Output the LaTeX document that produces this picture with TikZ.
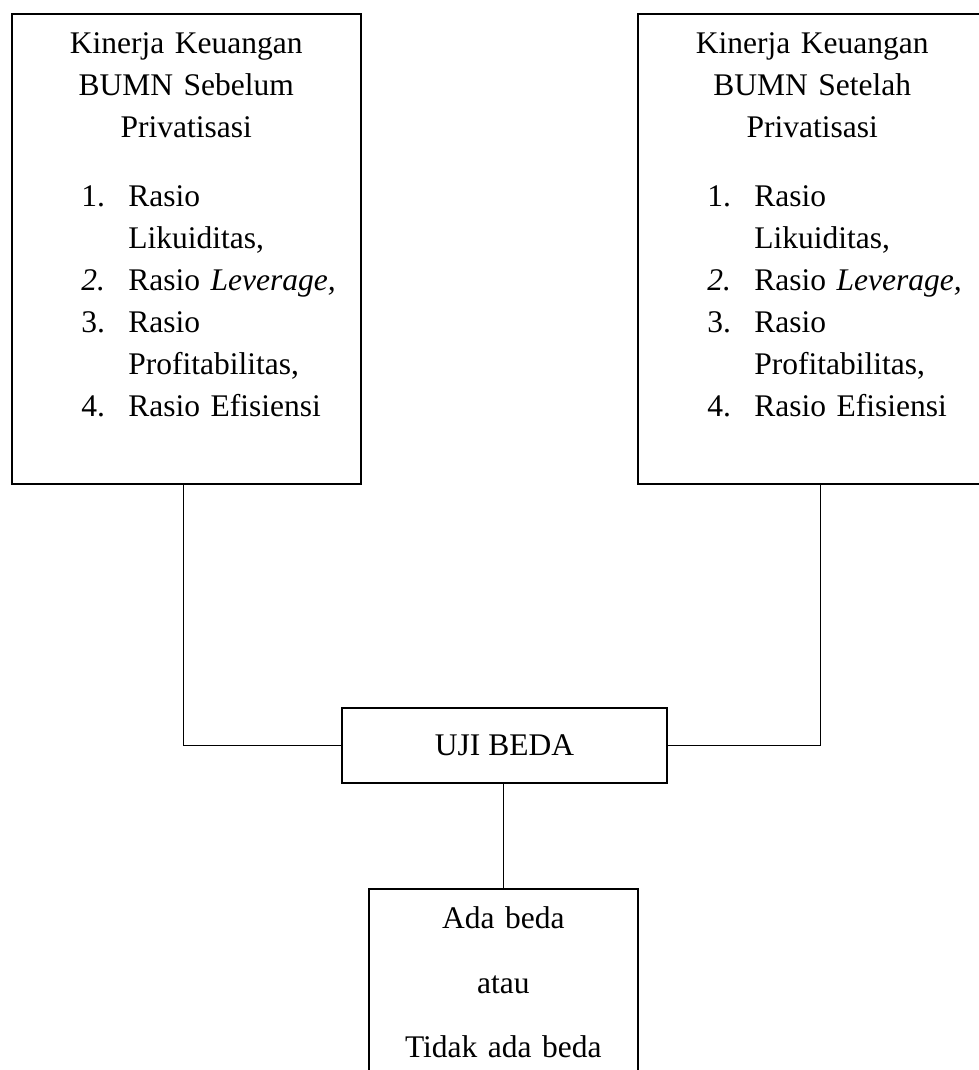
\documentclass[tikz,border=0pt]{standalone}
\usepackage{fontspec}
\setmainfont{Liberation Serif}
\usepackage{array}

\tikzset{
    kotak/.style={draw=black, line width=0.8pt, inner sep=0pt, align=center,
        font=\fontsize{15.75}{21}\selectfont},
    garis/.style={draw=black, line width=0.65pt}
}

\newcommand{\daftarrasio}{%
    \makebox[174.5pt][l]{\hspace*{34.75pt}\begin{tabular}[t]{@{}p{23.5pt}@{}l@{}}
        1. & Rasio\\
           & Likuiditas,\\
        \textit{2.} & Rasio \textit{Leverage,}\\
        3. & Rasio\\
           & Profitabilitas,\\
        4. & Rasio Efisiensi
    \end{tabular}}}

\begin{document}
\begin{tikzpicture}[x=0.5pt, y=-0.5pt]
    \useasboundingbox (0,0) rectangle (979,1070);
    \clip (0,0) rectangle (979,1070);

    \node[kotak, text width=174.5pt, text height=20pt, text depth=215pt, anchor=north west] (sebelum) at (11,13)
        {Kinerja Keuangan\\ BUMN Sebelum\\ Privatisasi\\[13.5pt] \daftarrasio};
    \node[kotak, text width=174.5pt, text height=20pt, text depth=215pt, anchor=north west] (setelah) at (637,13)
        {Kinerja Keuangan\\ BUMN Setelah\\ Privatisasi\\[13.5pt] \daftarrasio};
    \node[kotak, minimum width=162.5pt, minimum height=37.5pt] (uji) at (504.5,745.5) {UJI BEDA};
    \node[kotak, text width=134.5pt, text height=20pt, text depth=86pt, anchor=north west,
        font=\fontsize{15.75}{32.25}\selectfont] (hasil) at (368,888)
        {Ada beda\\ atau\\ Tidak ada beda};

    \path[garis] ([xshift=-1.5pt]sebelum.south) |- (uji.west);
    \path[garis] ([xshift=4.25pt]setelah.south) |- (uji.east);
    \path[garis] (hasil.north |- uji.south) -- (hasil.north);
\end{tikzpicture}
\end{document}
